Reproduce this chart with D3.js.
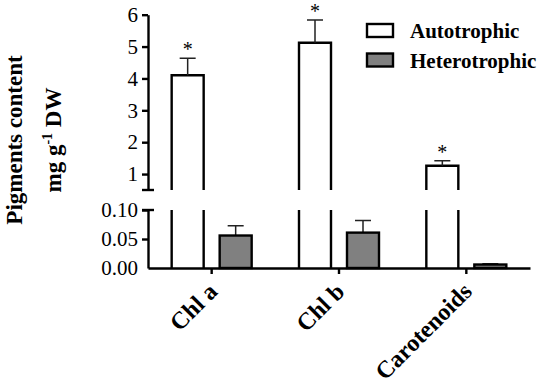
<!DOCTYPE html>
<html>
<head>
<meta charset="utf-8">
<script src="https://cdn.jsdelivr.net/npm/d3@7.9.0/dist/d3.min.js"></script>
<style>
  body { margin: 0; background: #fff; }
  svg { display: block; }
  text { font-family: 'Liberation Serif', 'Times New Roman', serif; fill: #000; }
</style>
</head>
<body>
<div id="chart"></div>
<script>
const categories = ['Chl a', 'Chl b', 'Carotenoids'];
const series = ['Autotrophic', 'Heterotrophic'];
const autoValues = [4.1, 5.12, 1.26];
const autoErrors = [0.53, 0.71, 0.16];
const heteroValues = [0.056, 0.061, 0.006];
const heteroErrors = [0.017, 0.021, 0.0015];
const sigMarks = ['*', '*', '*'];
const upperTicks = [1, 2, 3, 4, 5, 6];
const lowerTicks = [0, 0.05, 0.10];

const width = 550, height = 387;
const svg = d3.select('#chart').append('svg')
  .attr('width', width).attr('height', height);
svg.append('rect').attr('width', width).attr('height', height).attr('fill', '#fff');

const axisX = 148;
const x = d3.scaleBand().domain(categories).range([axisX, 530]);
const xs = d3.scaleBand().domain(series).range([-40, 40]).paddingInner(1 / 3);

// broken y axis: two segments
const yTop = d3.scaleLinear().domain([0.5, 6]).range([190, 14.7]);
const yBot = d3.scaleLinear().domain([0, 0.1]).range([268, 210]);

const strokeW = 2.4;
const serif = "'Liberation Serif', 'Times New Roman', serif";

const gTop = svg.append('g').attr('transform', `translate(${axisX},0)`)
  .call(d3.axisLeft(yTop).tickValues(upperTicks).tickSize(6).tickSizeOuter(0).tickFormat(d3.format('d')));
const gBot = svg.append('g').attr('transform', `translate(${axisX},0)`)
  .call(d3.axisLeft(yBot).tickValues(lowerTicks).tickSize(6).tickSizeOuter(0).tickFormat(d3.format('.2f')));

[gTop, gBot].forEach(g => {
  g.attr('font-family', serif).attr('font-size', 21);
  g.select('.domain').attr('stroke', '#000').attr('stroke-width', strokeW);
  g.selectAll('.tick line').attr('stroke', '#000').attr('stroke-width', strokeW);
  g.selectAll('.tick text')
    .attr('x', -10)
    .attr('fill', '#000');
});
gBot.select('.tick:first-of-type line').remove();

// break caps
[yTop(0.5), yBot(0.1)].forEach(yv => {
  svg.append('line')
    .attr('x1', axisX - 6).attr('x2', axisX + 6)
    .attr('y1', yv).attr('y2', yv)
    .attr('stroke', '#000').attr('stroke-width', strokeW);
});

// x axis
const gX = svg.append('g').attr('transform', `translate(0,${yBot(0)})`)
  .call(d3.axisBottom(x).tickSize(6).tickSizeOuter(0).tickFormat(''));
gX.select('.domain').attr('stroke', '#000').attr('stroke-width', strokeW);
gX.selectAll('.tick line').attr('stroke', '#000').attr('stroke-width', strokeW);

const cx = c => x(c) + x.bandwidth() / 2;
const bw = xs.bandwidth();

// autotrophic bars (white, broken)
categories.forEach((c, i) => {
  const x0 = cx(c) + xs('Autotrophic');
  const x1 = x0 + bw;
  const yv = yTop(autoValues[i]);
  svg.append('path')
    .attr('d', `M${x0},${yTop(0.5)}V${yv}H${x1}V${yTop(0.5)}`)
    .attr('fill', '#fff').attr('stroke', '#000').attr('stroke-width', strokeW);
  svg.append('path')
    .attr('d', `M${x0},${yBot(0.1)}V${yBot(0)}M${x1},${yBot(0.1)}V${yBot(0)}`)
    .attr('stroke', '#000').attr('stroke-width', strokeW);
  const xm = (x0 + x1) / 2;
  const ye = yTop(autoValues[i] + autoErrors[i]);
  svg.append('path')
    .attr('d', `M${xm},${yv}V${ye}M${xm - 8},${ye}H${xm + 8}`)
    .attr('stroke', '#222').attr('stroke-width', 1.5).attr('fill', 'none');
  svg.append('text')
    .attr('x', xm).attr('y', ye - 2)
    .attr('text-anchor', 'middle')
    .style('font-size', '20px')
    .attr('fill', '#444')
    .text(sigMarks[i]);
});

// heterotrophic bars (grey)
categories.forEach((c, i) => {
  const x0 = cx(c) + xs('Heterotrophic');
  const yv = yBot(heteroValues[i]);
  const xm = x0 + bw / 2;
  const ye = yBot(heteroValues[i] + heteroErrors[i]);
  svg.append('path')
    .attr('d', `M${xm},${yv}V${ye}M${xm - 8},${ye}H${xm + 8}`)
    .attr('stroke', '#222').attr('stroke-width', 1.5).attr('fill', 'none');
  svg.append('rect')
    .attr('x', x0).attr('y', yv)
    .attr('width', bw).attr('height', yBot(0) - yv)
    .attr('fill', '#808080').attr('stroke', '#000').attr('stroke-width', strokeW);
});

// category labels
categories.forEach(c => {
  svg.append('text')
    .attr('transform', `translate(${cx(c) + 7},${293}) rotate(-45)`)
    .attr('text-anchor', 'end')
    .style('font-size', '24px')
    .style('font-weight', 'bold')
    .text(c);
});

// y title
const title = svg.append('text')
  .attr('transform', 'translate(0,140) rotate(-90)')
  .attr('text-anchor', 'middle')
  .style('font-size', '23px')
  .style('font-weight', 'bold');
title.append('tspan').attr('x', 0).attr('y', 22).text('Pigments content');
const t2 = title.append('tspan').attr('x', 0).attr('y', 61).text('mg  g');
title.append('tspan').attr('dy', -9).style('font-size', '14px').text('-1');
title.append('tspan').attr('dy', 9).text(' DW');

// legend
const legend = svg.append('g');
series.forEach((s, i) => {
  const ly = 24 + i * 29.5;
  legend.append('rect')
    .attr('x', 367).attr('y', ly)
    .attr('width', 26).attr('height', 13)
    .attr('fill', i === 0 ? '#fff' : '#808080')
    .attr('stroke', '#000').attr('stroke-width', strokeW);
  legend.append('text')
    .attr('x', 410).attr('y', ly + 14)
    .style('font-size', '21px')
    .style('font-weight', 'bold')
    .text(s);
});
</script>
</body>
</html>
